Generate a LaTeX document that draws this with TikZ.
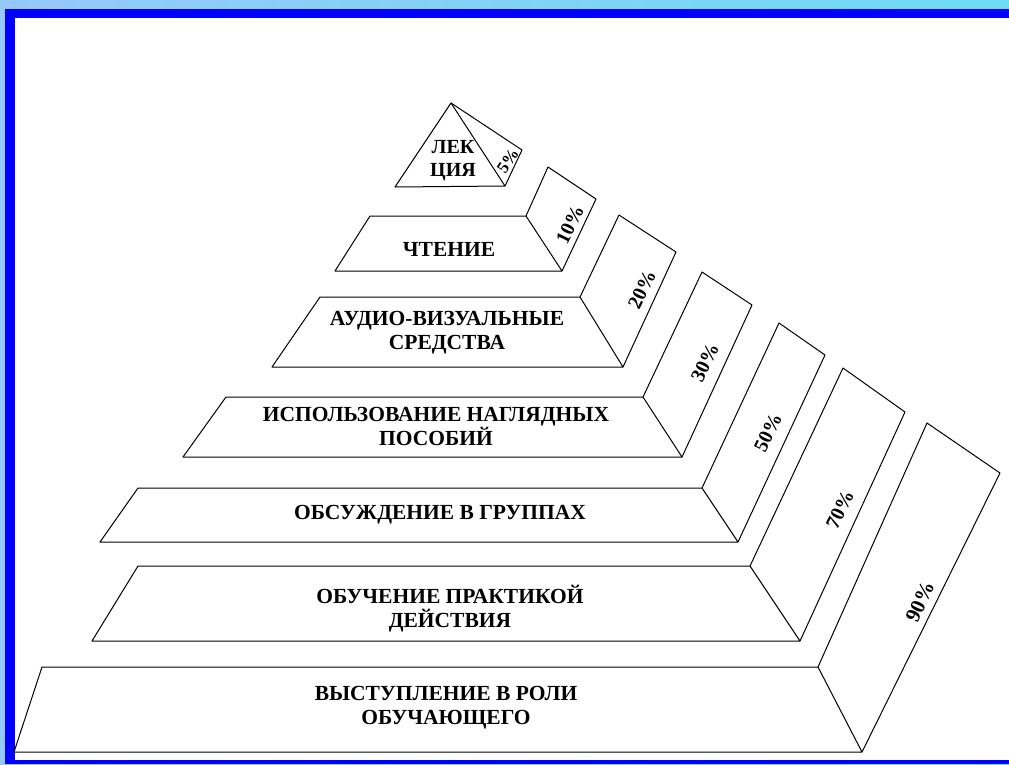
\documentclass[tikz,border=0pt]{standalone}
\usepackage{fontspec}
\setmainfont{Liberation Serif}
\definecolor{frameblue}{RGB}{0,0,255}
\definecolor{skyleft}{RGB}{150,200,250}
\definecolor{skyright}{RGB}{110,220,245}
\begin{document}
\begin{tikzpicture}[x=1pt,y=-1pt,
	every node/.style={font=\bfseries\fontsize{21.5}{24}\selectfont,align=center,inner sep=0pt},
	tier/.style={draw=black,line width=1pt,line join=round},
	pct/.style={font=\bfseries\fontsize{20}{20}\selectfont}]
	\useasboundingbox(0,0)rectangle(1009,764);
	% frame
	\shade[left color=skyleft,right color=skyright](0,0)rectangle(1009,764);
	\fill[frameblue](5,9)rectangle(1009,764);
	\fill[white](15,18)rectangle(1009,760);
	% corners of the tiers
	\coordinate(A)at(451,103);
	\coordinate(BL1)at(395,187);
	\coordinate(BR1)at(505,186);
	\coordinate(Q1)at(522,150);
	\coordinate(TL2)at(370,216);\coordinate(TR2)at(526,216);
	\coordinate(BR2)at(562,271);\coordinate(BL2)at(335,271);
	\coordinate(P2)at(548,167);\coordinate(Q2)at(596,199);
	\coordinate(TL3)at(320,297);\coordinate(TR3)at(580,297);
	\coordinate(BR3)at(623,367);\coordinate(BL3)at(272,367);
	\coordinate(P3)at(619,215);\coordinate(Q3)at(676,252);
	\coordinate(TL4)at(226,397);\coordinate(TR4)at(643,397);
	\coordinate(BR4)at(682,457);\coordinate(BL4)at(183,457);
	\coordinate(P4)at(702,272);\coordinate(Q4)at(752,305);
	\coordinate(TL5)at(138,488);\coordinate(TR5)at(702,488);
	\coordinate(BR5)at(738,542);\coordinate(BL5)at(100,542);
	\coordinate(P5)at(779,323);\coordinate(Q5)at(825,355);
	\coordinate(TL6)at(138,566);\coordinate(TR6)at(750,566);
	\coordinate(BR6)at(800,641);\coordinate(BL6)at(92,641);
	\coordinate(P6)at(843,368);\coordinate(Q6)at(905,412);
	\coordinate(TL7)at(42,667);\coordinate(TR7)at(818,667);
	\coordinate(BR7)at(862,752);\coordinate(BL7)at(14,752);
	\coordinate(P7)at(927,423);\coordinate(Q7)at(1000,473);
	% tiers and their sides
	\draw[tier](A)--(BR1)--(BL1)--cycle;
	\draw[tier](A)--(Q1)--(BR1);
	\foreach\n in{2,...,7}{
		\draw[tier](TL\n)--(TR\n)--(BR\n)--(BL\n)--cycle;
		\draw[tier](TR\n)--(P\n)--(Q\n)--(BR\n);
	}
	% texts
	\node[font=\bfseries\fontsize{20}{23}\selectfont](t1)at(453,161){ЛЕК\\ЦИЯ};
	\node(t2)at(449,249){ЧТЕНИЕ};
	\node(t3)at(447,333){АУДИО-ВИЗУАЛЬНЫЕ\\СРЕДСТВА};
	\node(t4)at(436,426){ИСПОЛЬЗОВАНИЕ НАГЛЯДНЫХ\\ПОСОБИЙ};
	\node(t5)at(440,515){ОБСУЖДЕНИЕ В ГРУППАХ};
	\node(t6)at(450,609){ОБУЧЕНИЕ ПРАКТИКОЙ\\ДЕЙСТВИЯ};
	\node(t7)at(446,708){ВЫСТУПЛЕНИЕ В РОЛИ\\ОБУЧАЮЩЕГО};
	% percentages
	\node[pct,font=\bfseries\fontsize{17}{17}\selectfont,rotate=56](p5)at(508,161){5\%};
	\node[pct,rotate=64](p10)at(570,225){10\%};
	\node[pct,rotate=64](p20)at(642,290){20\%};
	\node[pct,rotate=64](p30)at(705,363){30\%};
	\node[pct,rotate=64](p50)at(768,433){50\%};
	\node[pct,rotate=64](p70)at(840,510){70\%};
	\node[pct,font=\bfseries\fontsize{21}{21}\selectfont,rotate=65](p90)at(920,602){90\%};
\end{tikzpicture}
\end{document}
